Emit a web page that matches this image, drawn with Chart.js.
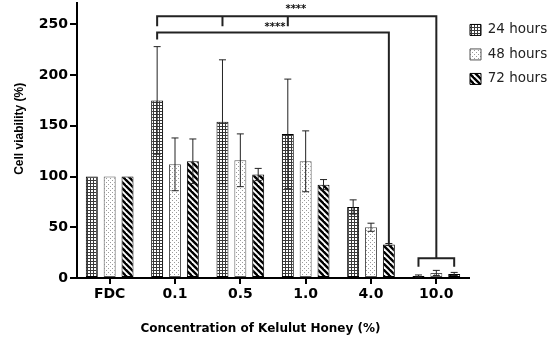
<!DOCTYPE html>
<html>
<head>
<meta charset="utf-8">
<script src="https://cdn.jsdelivr.net/npm/chart.js@4.4.1/dist/chart.umd.min.js"></script>
<style>
  html, body { margin: 0; padding: 0; background: #fff; }
  #wrap { width: 550px; height: 340px; }
</style>
</head>
<body>
<div id="wrap"><canvas id="chart"></canvas></div>
<script>
// data
const categories = ['FDC', '0.1', '0.5', '1.0', '4.0', '10.0'];
const seriesNames = ['24 hours', '48 hours', '72 hours'];
const mean24 = [100, 175, 154, 142, 70, 2];
const mean48 = [100, 112, 116, 115, 50, 5];
const mean72 = [100, 115, 102, 92, 33, 4];
const sd24 = [0, 53, 61, 54, 7, 1];
const sd48 = [0, 26, 26, 30, 4, 2.5];
const sd72 = [0, 22, 6, 5, 1, 1.5];
const yTicks = [0, 50, 100, 150, 200, 250];

// significance brackets, in data units
const sigTop = 258, sigTopDrop = 248;
const sigMid = 242, sigMidDrop = 235;
const groupBracket = 19.5, groupBracketDrop = 11;

function makePattern(kind) {
  const c = document.createElement('canvas');
  const ctx = c.getContext('2d');
  if (kind === 'grid') {
    c.width = 3; c.height = 3;
    ctx.fillStyle = '#fff';
    ctx.fillRect(0, 0, 3, 3);
    ctx.fillStyle = '#3a3a3a';
    ctx.fillRect(0, 0, 3, 1);
    ctx.fillRect(0, 0, 1, 3);
  } else if (kind === 'dots') {
    c.width = 4; c.height = 4;
    ctx.fillStyle = '#fff';
    ctx.fillRect(0, 0, 4, 4);
    ctx.fillStyle = '#9a9a9a';
    ctx.fillRect(0, 0, 1, 1);
    ctx.fillRect(2, 2, 1, 1);
  } else {
    c.width = 6; c.height = 6;
    ctx.fillStyle = '#fff';
    ctx.fillRect(0, 0, 6, 6);
    ctx.strokeStyle = '#000';
    ctx.lineWidth = 2.4;
    for (let o = -6; o <= 6; o += 6) {
      ctx.beginPath();
      ctx.moveTo(o - 1, -1);
      ctx.lineTo(o + 7, 7);
      ctx.stroke();
    }
  }
  return ctx.createPattern(c, 'repeat');
}

const errorBars = {
  id: 'errorBars',
  afterDatasetsDraw(chart) {
    const ctx = chart.ctx;
    const y = chart.scales.y;
    const sds = [sd24, sd48, sd72];
    ctx.save();
    ctx.strokeStyle = '#222';
    ctx.lineWidth = 1;
    chart.data.datasets.forEach((ds, d) => {
      chart.getDatasetMeta(d).data.forEach((bar, i) => {
        const sd = sds[d][i];
        if (!sd) return;
        const hi = y.getPixelForValue(ds.data[i] + sd);
        const lo = y.getPixelForValue(Math.max(0, ds.data[i] - sd));
        ctx.beginPath();
        ctx.moveTo(bar.x, hi); ctx.lineTo(bar.x, lo);
        ctx.moveTo(bar.x - 3.5, hi); ctx.lineTo(bar.x + 3.5, hi);
        ctx.moveTo(bar.x - 3.5, lo); ctx.lineTo(bar.x + 3.5, lo);
        ctx.stroke();
      });
    });
    ctx.restore();
  }
};

const brackets = {
  id: 'brackets',
  afterDraw(chart) {
    const ctx = chart.ctx;
    const y = chart.scales.y;
    const x = chart.scales.x;
    const px = (d, i) => chart.getDatasetMeta(d).data[i].x;
    const py = v => y.getPixelForValue(v);
    ctx.save();
    ctx.strokeStyle = '#222';
    ctx.lineWidth = 2;
    ctx.beginPath();
    // top bracket: 0.1/0.5/1.0 (24 h) vs 10.0
    ctx.moveTo(px(0, 1), py(sigTopDrop));
    ctx.lineTo(px(0, 1), py(sigTop));
    ctx.lineTo(px(1, 5), py(sigTop));
    ctx.lineTo(px(1, 5), py(groupBracket));
    ctx.moveTo(px(0, 2), py(sigTop)); ctx.lineTo(px(0, 2), py(sigTopDrop));
    ctx.moveTo(px(0, 3), py(sigTop)); ctx.lineTo(px(0, 3), py(sigTopDrop));
    // second bracket: 0.1 (24 h) vs 4.0 (72 h)
    ctx.moveTo(px(0, 1), py(sigMidDrop));
    ctx.lineTo(px(0, 1), py(sigMid));
    ctx.lineTo(px(2, 4), py(sigMid));
    ctx.lineTo(px(2, 4), py(mean72[4]));
    // group bracket over 10.0
    ctx.moveTo(px(0, 5), py(groupBracketDrop));
    ctx.lineTo(px(0, 5), py(groupBracket));
    ctx.lineTo(px(2, 5), py(groupBracket));
    ctx.lineTo(px(2, 5), py(groupBracketDrop));
    ctx.stroke();
    ctx.fillStyle = '#111';
    ctx.font = 'bold 10px "DejaVu Sans"';
    ctx.textAlign = 'center';
    ctx.textBaseline = 'middle';
    ctx.fillText('****', x.getPixelForValue(2.85), py(265));
    ctx.fillText('****', x.getPixelForValue(2.53), py(247));
    ctx.restore();
  }
};

// pull the legend a bit closer to the plot
const legendShift = {
  id: 'legendShift',
  afterLayout(chart) {
    const lg = chart.legend;
    if (!lg) return;
    lg.left -= 10;
    lg.width += 10;
    if (lg.legendHitBoxes) lg.legendHitBoxes.forEach(b => { b.left -= 10; });
  }
};

const fills = [makePattern('grid'), makePattern('dots'), makePattern('diag')];
const means = [mean24, mean48, mean72];

new Chart(document.getElementById('chart'), {
  type: 'bar',
  data: {
    labels: categories,
    datasets: seriesNames.map((name, d) => ({
      label: name,
      data: means[d],
      backgroundColor: fills[d],
      borderColor: d === 1 ? '#555' : '#000',
      borderWidth: 1,
      borderSkipped: false,
      categoryPercentage: 0.82,
      barPercentage: 0.67
    }))
  },
  options: {
    responsive: true,
    maintainAspectRatio: false,
    animation: false,
    layout: { padding: { top: 3, right: 0, bottom: 0, left: 0 } },
    plugins: {
      tooltip: { enabled: false },
      legend: {
        position: 'right',
        align: 'start',
        maxWidth: 81,
        title: { display: true, text: ' ', font: { size: 1 }, padding: 4 },
        labels: {
          font: { family: '"DejaVu Sans"', size: 13.5 },
          color: '#222',
          boxWidth: 11,
          boxHeight: 11,
          padding: 11
        }
      }
    },
    scales: {
      x: {
        grid: { display: true, drawOnChartArea: false, offset: false, color: '#000', lineWidth: 2, tickLength: 6 },
        border: { color: '#000', width: 2 },
        ticks: { font: { family: '"DejaVu Sans"', size: 14, weight: 'bold' }, color: '#000', padding: 2 },
        title: {
          display: true,
          text: 'Concentration of Kelulut Honey (%)      ',
          font: { family: '"DejaVu Sans"', size: 12, weight: 'bold' },
          color: '#000',
          padding: { top: 0, bottom: 4 }
        },
        afterFit(scale) { scale.height = 62; scale.paddingRight = 0; scale.paddingLeft = 0; }
      },
      y: {
        min: 0,
        max: 271,
        grid: { display: true, drawOnChartArea: false, color: '#000', lineWidth: 2, tickLength: 7 },
        border: { color: '#000', width: 2 },
        ticks: { font: { family: '"DejaVu Sans"', size: 14, weight: 'bold' }, color: '#000', padding: 2 },
        afterBuildTicks(scale) { scale.ticks = yTicks.map(v => ({ value: v })); },
        title: {
          display: true,
          text: '       Cell viability (%)',
          font: { family: '"Liberation Sans"', size: 12, weight: 'bold' },
          color: '#000',
          padding: { top: 12, bottom: 0 }
        },
        afterFit(scale) { scale.width = 77; scale.paddingTop = 0; scale.paddingBottom = 0; }
      }
    }
  },
  plugins: [errorBars, brackets, legendShift]
});
</script>
</body>
</html>
